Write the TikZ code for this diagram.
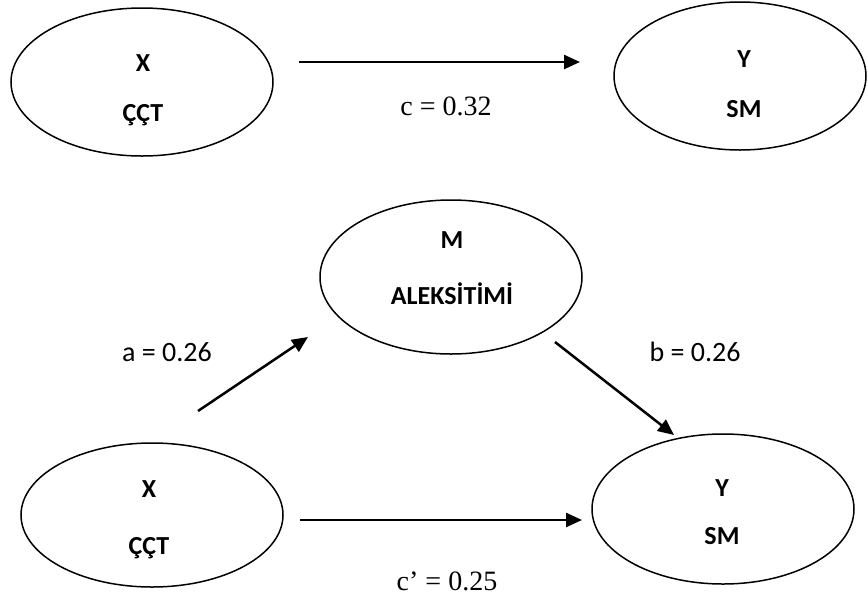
\documentclass[tikz,border=0pt]{standalone}
\usepackage{fontspec}
\setmainfont{Carlito}
\newfontfamily\tnr{Liberation Serif}
\usetikzlibrary{shapes.geometric,arrows.meta}
\tikzset{
  var/.style={ellipse, draw, line width=1.5pt, inner sep=0pt},
  vtxt/.style={anchor=base, inner sep=0pt, font=\fontsize{26}{30}\selectfont\bfseries},
  path/.style={line width=2.5pt, -{Triangle[length=16pt,width=14pt]}},
  coef/.style={font=\fontsize{28}{30}\selectfont},
  coefs/.style={font=\tnr\fontsize{28}{30}\selectfont},
}
\begin{document}
\begin{tikzpicture}[x=1pt,y=-1pt]
\useasboundingbox (0,0) rectangle (868,606);
% top model
\node[var, minimum width=262pt, minimum height=148pt] (x1) at (142,82) {};
\node[vtxt] (x1a) at (143,71) {X};
\node[vtxt] (x1b) at (143,121) {ÇÇT};
\node[var, minimum width=252pt, minimum height=148pt] (y1) at (740,76) {};
\node[vtxt] (y1a) at (744,67) {Y};
\node[vtxt] (y1b) at (744,117) {SM};
\coordinate (c1s) at (299,62);
\coordinate (c1e) at (580,62);
\draw[path] (c1s) -- (c1e);
\node[coefs] (lc) at (446,106) {c = 0.32};
% mediation model
\node[var, minimum width=262pt, minimum height=154pt] (m) at (451,277) {};
\node[vtxt] (ma) at (452,248) {M};
\node[vtxt] (mb) at (452,304) {ALEKSİTİMİ};
\node[var, minimum width=262pt, minimum height=144pt] (x2) at (152,515) {};
\node[vtxt] (x2a) at (149,497) {X};
\node[vtxt] (x2b) at (149,554) {ÇÇT};
\node[var, minimum width=262pt, minimum height=150pt] (y2) at (723,509) {};
\node[vtxt] (y2a) at (722,496) {Y};
\node[vtxt] (y2b) at (722,544) {SM};
\coordinate (as) at (198,411);
\coordinate (ae) at (308,337);
\coordinate (bs) at (555,342);
\coordinate (be) at (674,435);
\coordinate (cs) at (300,520);
\coordinate (ce) at (582,520);
\draw[path] (as) -- (ae);
\draw[path] (bs) -- (be);
\draw[path] (cs) -- (ce);
\node[coef] (la) at (167,352) {a = 0.26};
\node[coef] (lb) at (695,352) {b = 0.26};
\node[coefs] (lcp) at (447,581) {c’ = 0.25};
\end{tikzpicture}
\end{document}
